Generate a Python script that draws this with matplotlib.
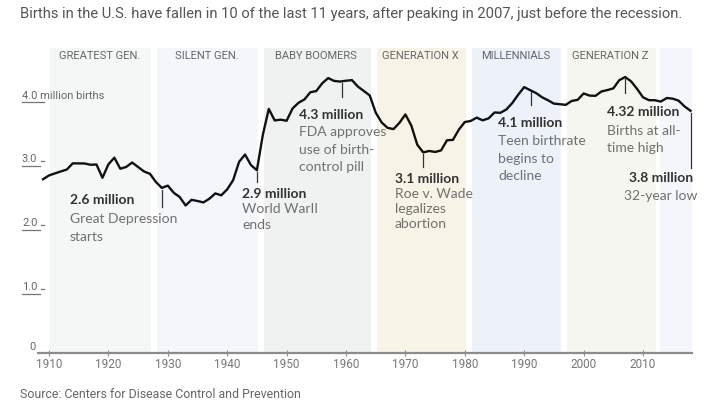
import matplotlib
matplotlib.use("Agg")
import matplotlib.pyplot as plt
import matplotlib.transforms as mtransforms
from matplotlib import font_manager

# annual U.S. births, millions (CDC)
years = list(range(1909, 2019))
births = [2.718, 2.777, 2.809, 2.840, 2.869, 2.966, 2.965, 2.964, 2.944, 2.948,
          2.740, 2.950, 3.055, 2.882, 2.910, 2.979, 2.909, 2.839, 2.802, 2.674,
          2.582, 2.618, 2.506, 2.440, 2.307, 2.396, 2.377, 2.355, 2.413, 2.496,
          2.466, 2.559, 2.703, 2.989, 3.104, 2.939, 2.858, 3.411, 3.817, 3.637,
          3.649, 3.632, 3.823, 3.913, 3.965, 4.078, 4.097, 4.218, 4.300, 4.255,
          4.245, 4.258, 4.268, 4.167, 4.098, 4.027, 3.760, 3.606, 3.521, 3.502,
          3.600, 3.731, 3.556, 3.258, 3.137, 3.160, 3.144, 3.168, 3.327, 3.333,
          3.494, 3.612, 3.629, 3.681, 3.639, 3.669, 3.761, 3.757, 3.809, 3.910,
          4.041, 4.158, 4.111, 4.065, 4.000, 3.953, 3.900, 3.891, 3.881, 3.942,
          3.959, 4.059, 4.026, 4.022, 4.090, 4.112, 4.138, 4.266, 4.316, 4.248,
          4.131, 3.999, 3.954, 3.953, 3.932, 3.988, 3.978, 3.946, 3.856, 3.788]

gen_names = ["GREATEST GEN.", "SILENT GEN.", "BABY BOOMERS", "GENERATION X",
             "MILLENNIALS", "GENERATION Z", ""]
gen_start = [1910, 1928, 1946, 1965, 1981, 1997, 2012.7]
gen_end = [1927, 1945, 1964, 1980, 1996, 2012, 2018.1]
gen_colors = ["#f5f6f6", "#f3f6fb", "#f0f1f1", "#f7f4e7", "#edf1fa", "#f6f6f1", "#f3f6fb"]

ytick_vals = [0, 1.0, 2.0, 3.0, 4.0]
ytick_text = ["0", "1.0", "2.0", "3.0", "4.0 million births"]

# (value, description lines, year of event)
notes = [
    ("2.6 million", ["Great Depression", "starts"], 1929),
    ("2.9 million", ["World WarII", "ends"], 1945),
    ("4.3 million", ["FDA approves", "use of birth-", "control pill"], 1959.3),
    ("3.1 million", ["Roe v. Wade", "legalizes", "abortion"], 1973),
    ("4.1 million", ["Teen birthrate", "begins to", "decline"], 1991.1),
    ("4.32 million", ["Births at all-", "time high"], 2007),
    ("3.8 million", ["32-year low"], 2018),
]

installed = {f.name for f in font_manager.fontManager.ttflist}
narrow = ["Liberation Sans Narrow", "DejaVu Sans"] if "Liberation Sans Narrow" in installed else ["Roboto", "DejaVu Sans"]
body = ["Lato", "DejaVu Sans"]

fig = plt.figure(figsize=(7.2, 4.05), dpi=100)
ax = fig.add_axes([38 / 720, 52 / 405, 654 / 720, 305 / 405])
ax.set_xlim(1908.15, 2018.25)
ax.set_ylim(0, 4.77)

for s, e, c in zip(gen_start, gen_end, gen_colors):
    ax.axvspan(s + 0.2, e + 0.2, color=c, lw=0, zorder=0)
for s, e, n in zip(gen_start, gen_end, gen_names):
    ax.text((s + e) / 2, 4.64, n, ha="center", va="center", fontsize=8,
            color="#666666", family=narrow)

ax.plot(years, births, color="#111111", lw=1.7, zorder=3, solid_joinstyle="round")

for sp in ["top", "right", "left"]:
    ax.spines[sp].set_visible(False)
ax.spines["bottom"].set_color("#8c8c8c")
ax.spines["bottom"].set_linewidth(1.6)
ax.set_yticks([])
ax.set_xticks(range(1910, 2011, 10))
ax.tick_params(axis="x", direction="inout", length=5, width=0.8, color="#8c8c8c",
               labelsize=8.5, labelcolor="#777777", pad=1)
for lab in ax.get_xticklabels():
    lab.set_family(narrow)

# y labels in WSJ style: text with a short underline at the left edge
bt = mtransforms.blended_transform_factory(fig.transFigure, ax.transData)
for v, t in zip(ytick_vals, ytick_text):
    if v == 0:
        fig.text(33 / 720, 0.02, t, transform=bt, ha="center", va="bottom",
                 fontsize=8, color="#666666", family=narrow)
        continue
    fig.text(22 / 720, v - 0.02, t, transform=bt, ha="left", va="baseline",
             fontsize=8, color="#666666", family=narrow)
    ul = 44 if v == 4.0 else 40
    fig.add_artist(plt.Line2D([22 / 720, ul / 720], [v - 0.08, v - 0.08], transform=bt,
                              color="#777777", lw=0.9))
    if v != 4.0:
        fig.add_artist(plt.Line2D([41 / 720, 44 / 720], [v, v], transform=bt,
                                  color="#777777", lw=0.9))

# annotation layout: text x, value y, description ys, leader bottom, alignment
note_x = [1913.5, 1942.5, 1952.1, 1968.25, 1985.6, 2003.9, 2018.4]
note_vy = [2.39, 2.48, 3.72, 2.72, 3.59, 3.77, 2.73]
note_dy = [[2.09, 1.81], [2.25, 2.00], [3.45, 3.17, 2.91], [2.48, 2.25, 2.02],
           [3.31, 3.03, 2.77], [3.47, 3.20], [2.45]]
lead_end = [2.28, 2.67, 4.00, 2.91, 3.875, 4.06, 2.89]

for i, (val, desc, yr) in enumerate(notes):
    ha = "right" if i == 6 else "left"
    ax.text(note_x[i], note_vy[i], val, ha=ha, va="center", fontsize=10,
            fontweight="bold", color="#333333", family=body, zorder=5)
    for j, (line, dy) in enumerate(zip(desc, note_dy[i])):
        xx = note_x[i] + (0.7 if i == 6 else 0)
        ax.text(xx, dy, line, ha=ha, va="center", fontsize=10, color="#707070",
                family=body, zorder=5)
    top = births[years.index(int(round(yr)))] - 0.03
    ax.plot([yr, yr], [top, lead_end[i]], color="#333333", lw=0.9, zorder=4,
            clip_on=False)

fig.text(20 / 720, 1 - 14 / 405,
         "Births in the U.S. have fallen in 10 of the last 11 years, after peaking in 2007, just before the recession.",
         ha="left", va="center", fontsize=10.6, color="#555555", family=narrow)
fig.text(20 / 720, 1 - 395 / 405, "Source: Centers for Disease Control and Prevention",
         ha="left", va="center", fontsize=8.9, color="#666666", family=narrow)

fig.savefig("out.png", dpi=100)
